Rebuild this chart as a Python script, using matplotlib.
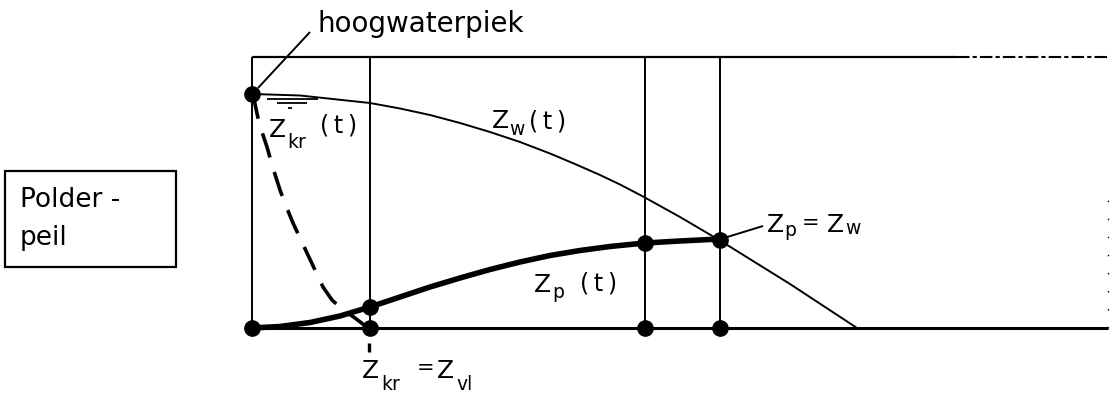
import matplotlib as mpl
mpl.rcParams['font.family'] = 'DejaVu Sans'

import matplotlib.pyplot as plt
from matplotlib.patches import Rectangle

# time axis t (0 = hoogwaterpiek), level z above polderpeil
t_end = 8.56
z_top = 2.71

# Z_w(t): buitenwaterstand
tw = [0.01, 0.48, 1.18, 1.48, 1.78, 2.08, 2.38, 2.68, 2.98, 3.23, 3.48, 3.68,
      3.91, 4.28, 4.68, 5.38, 6.05]
zw = [2.34, 2.325, 2.25, 2.195, 2.13, 2.05, 1.96, 1.86, 1.745, 1.64, 1.53, 1.435,
      1.315, 1.11, 0.875, 0.44, 0.0]

# Z_p(t): polderwaterstand
tp = [0.0, 0.28, 0.58, 0.88, 1.18, 1.48, 1.78, 2.08, 2.38, 2.68, 2.98, 3.28,
      3.58, 3.93, 4.28, 4.68]
zp = [0.0, 0.015, 0.055, 0.12, 0.21, 0.31, 0.41, 0.50, 0.585, 0.66, 0.725,
      0.775, 0.815, 0.85, 0.87, 0.89]

# Z_kr(t): kritieke waterstand (gestreept)
tk = [0.01, 0.03, 0.06, 0.10, 0.15, 0.21, 0.28, 0.34, 0.41, 0.48, 0.55,
      0.63, 0.71, 0.80, 0.90, 1.03, 1.16]
zk = [2.34, 2.24, 2.10, 1.96, 1.81, 1.60, 1.38, 1.22, 1.05, 0.90, 0.75,
      0.58, 0.41, 0.28, 0.19, 0.10, 0.0]

# verticale hulplijnen
t_vert = [0.0, 1.18, 3.93, 4.68]

# punten
t_dots = [0.0, 0.0, 1.18, 1.18, 3.93, 3.93, 4.68, 4.68]
z_dots = [2.34, 0.0, 0.21, 0.0, 0.85, 0.0, 0.88, 0.0]

# waterspiegel-teken
sym_t = [(0.15, 0.66), (0.25, 0.55), (0.36, 0.40)]
sym_z = [2.29, 2.25, 2.20]

W, H = 1113, 407
fig = plt.figure(figsize=(W / 100, H / 100), dpi=100)
x0, y0 = 252, 328   # pixel position of origin
ax = fig.add_axes([x0 / W, (H - y0) / H, 856 / W, 271 / H])
ax.set_xlim(0, t_end)
ax.set_ylim(0, z_top)
ax.axis('off')


def px(x, y):
    # pixel position -> data position (1 unit = 100 px)
    return (x - x0) / 100, (y0 - y) / 100


def txt(x, y, s, size):
    ax.text(*px(x, y), s, fontsize=size, ha='left', va='baseline')


k = dict(color='black', clip_on=False, solid_capstyle='butt')

# frame
ax.plot([0, t_end], [0, 0], lw=2.2, **k)
ax.plot([0, 7.05], [z_top, z_top], lw=1.6, **k)
ax.plot([7.05, t_end], [z_top, z_top], lw=1.5, ls=(0, (6, 1.5, 2, 1.5)), color='black', clip_on=False)
ax.plot([t_end, t_end], [0, 1.35], lw=1.0, ls=(0, (1, 12)), color='black', clip_on=False)

for tv in t_vert:
    ax.plot([tv, tv], [0, z_top], lw=1.4, **k)

ax.plot(tw, zw, lw=1.4, color='black', clip_on=False)
ax.plot(tp, zp, lw=4.0, color='black', clip_on=False, solid_capstyle='round')
ax.plot(tk, zk, lw=2.6, color='black', clip_on=False, dashes=(7.0, 4.2))
ax.plot([1.17, 1.17], [-0.15, -0.24], lw=2.4, **k)

for (a, b), zs in zip(sym_t, sym_z):
    ax.plot([a, b], [zs, zs], lw=1.3, **k)

ax.plot(t_dots, z_dots, 'o', color='black', ms=11, clip_on=False, zorder=5)

# leader lines
ax.plot(*zip(px(258, 88), px(310, 32)), lw=1.4, **k)
ax.plot(*zip(px(724, 238), px(763, 226)), lw=1.4, **k)

txt(318, 32, 'hoogwaterpiek', 20)

ts = '(\u2009t\u2009)'
# Z_kr (t)
txt(269, 137, 'Z', 18)
txt(287, 148, 'kr', 13.5)
txt(320, 133, ts, 17)
# Z_w (t)
txt(492, 128, 'Z', 18)
txt(509, 135, 'w', 13.5)
txt(529, 128, ts, 17)
# Z_p  (t)
txt(534, 292, 'Z', 18)
txt(552, 298, 'p', 13.5)
txt(580, 290, ts, 17)
# Z_p = Z_w
txt(767, 232, 'Z', 18)
txt(784, 236, 'p', 13.5)
txt(802, 229, '=', 15)
txt(827, 232, 'Z', 18)
txt(845, 234, 'w', 13.5)
# Z_kr = Z_vl
txt(362, 378, 'Z', 18)
txt(381, 390, 'kr', 13.5)
txt(417, 374, '=', 15)
txt(437, 378, 'Z', 18)
txt(456, 390, 'vl', 13.5)

# Polderpeil box
bx0, by0 = px(5, 267)
bx1, by1 = px(176, 171)
ax.add_patch(Rectangle((bx0, by0), bx1 - bx0, by1 - by0, fill=False,
                       lw=1.6, edgecolor='black', clip_on=False))
txt(20, 207, 'Polder -', 19)
txt(20, 245, 'peil', 19)

fig.savefig('out.png', dpi=100)
